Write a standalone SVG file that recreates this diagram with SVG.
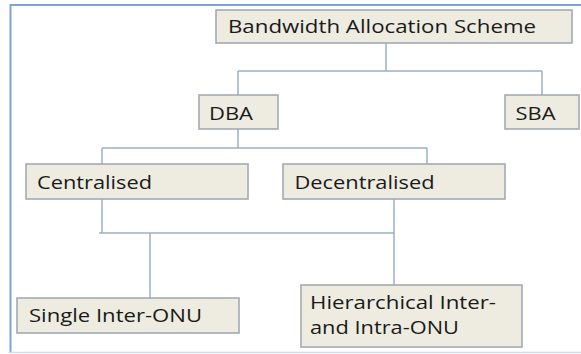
<svg xmlns="http://www.w3.org/2000/svg" width="581" height="354" viewBox="0 0 581 354">
<style>
.box{fill:#eeece1;stroke:#a3abb5;stroke-width:1.6}
.lbl{font-family:"Open Sans","Liberation Sans",sans-serif;font-size:19px;fill:#1a1a1a}
.con{fill:none;stroke:#9cb0c7;stroke-width:1.5}
</style>
<rect x="0" y="0" width="581" height="354" fill="#ffffff"/>
<g id="frame">
<line x1="10.5" y1="5" x2="581" y2="5" stroke="#7fa3d6" stroke-width="2"/>
<line x1="10.5" y1="4" x2="10.5" y2="353" stroke="#7fa3d6" stroke-width="2"/>
<line x1="10" y1="352.5" x2="581" y2="352.5" stroke="#d4dce6" stroke-width="1.5"/>
</g>
<g id="connectors">
<path class="con" d="M386 43 V71 M238 71 H542 M238 71 V95 M542 71 V95"/>
<path class="con" d="M238 129 V148 M102 148 H427 M102 148 V164 M427 148 V164"/>
<path class="con" d="M102 199 V233 M394 199 V285 M99 233 H394 M150 233 V298"/>
</g>
<g id="node-bas">
<rect class="box" x="216" y="10" width="356" height="33"/>
<text class="lbl" x="228" y="33" textLength="308" lengthAdjust="spacingAndGlyphs">Bandwidth Allocation Scheme</text>
</g>
<g id="node-dba">
<rect class="box" x="199" y="95" width="79" height="34"/>
<text class="lbl" x="209" y="120" textLength="44" lengthAdjust="spacingAndGlyphs">DBA</text>
</g>
<g id="node-sba">
<rect class="box" x="505" y="95" width="74" height="34"/>
<text class="lbl" x="515.5" y="120" textLength="40" lengthAdjust="spacingAndGlyphs">SBA</text>
</g>
<g id="node-centralised">
<rect class="box" x="26" y="164" width="222" height="35"/>
<text class="lbl" x="37" y="189" textLength="115" lengthAdjust="spacingAndGlyphs">Centralised</text>
</g>
<g id="node-decentralised">
<rect class="box" x="283" y="164" width="222" height="35"/>
<text class="lbl" x="294.5" y="189" textLength="140" lengthAdjust="spacingAndGlyphs">Decentralised</text>
</g>
<g id="node-single">
<rect class="box" x="17" y="298" width="222" height="35"/>
<text class="lbl" x="29" y="322" textLength="173" lengthAdjust="spacingAndGlyphs">Single Inter-ONU</text>
</g>
<g id="node-hierarchical">
<rect class="box" x="301" y="285" width="221" height="62"/>
<text class="lbl" x="310" y="309" textLength="186" lengthAdjust="spacingAndGlyphs">Hierarchical Inter-</text>
<text class="lbl" x="310" y="334" textLength="149" lengthAdjust="spacingAndGlyphs">and Intra-ONU</text>
</g>
</svg>
